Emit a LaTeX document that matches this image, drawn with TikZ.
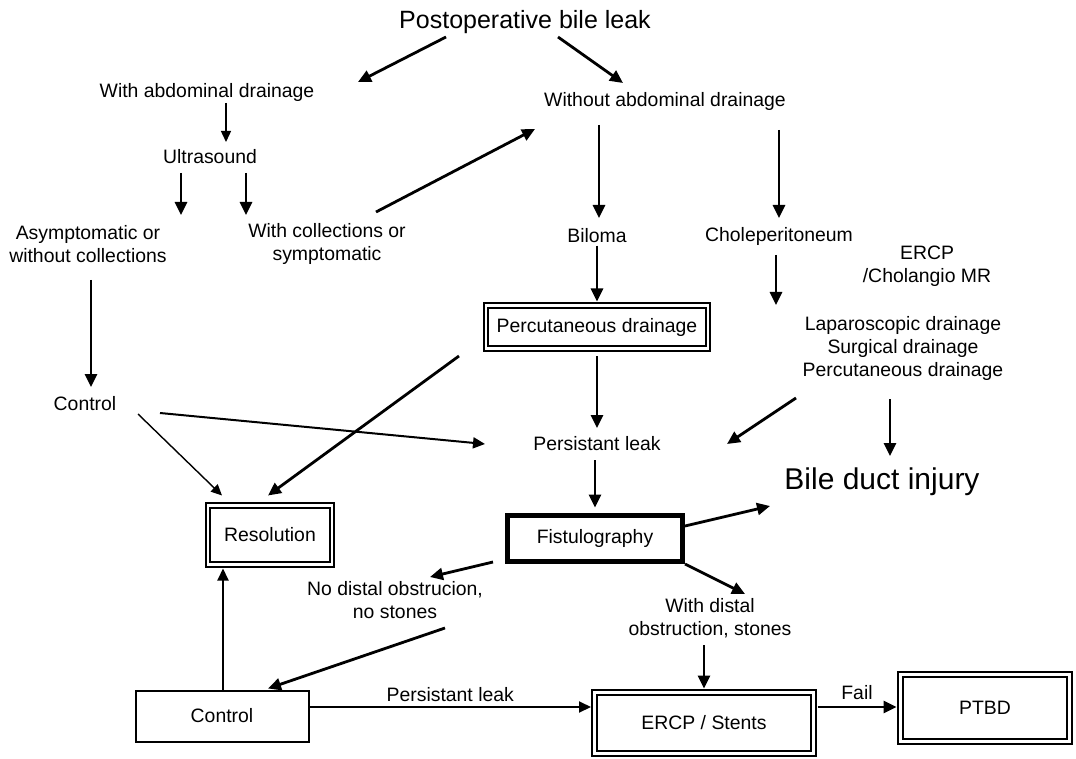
\documentclass[tikz,border=0pt]{standalone}
\usepackage{fontspec}
\setmainfont{Liberation Sans}
\usetikzlibrary{arrows.meta,positioning}

\begin{document}
\begin{tikzpicture}[x=0.5pt, y=-0.5pt,
    every node/.style={font=\fontsize{9.7}{11.5}\selectfont, align=center, inner sep=1pt},
    big/.style={font=\fontsize{12.5}{15}\selectfont},
    bigger/.style={font=\fontsize{15}{18}\selectfont},
    arr/.style={-{Triangle[length=6.5pt,width=6pt]}, line width=1.4pt},
    midarr/.style={-{Triangle[length=6pt,width=5.5pt]}, line width=1pt},
    thinarr/.style={-{Triangle[length=5.5pt,width=5pt]}, line width=0.7pt},
    dbox/.style={draw, double, line width=1pt, double distance=1.1pt, inner sep=0pt},
    sbox/.style={draw, line width=1pt, inner sep=0pt},
    heavybox/.style={draw, line width=2.5pt, inner sep=0pt}]

  \useasboundingbox (0,0) rectangle (1076,759);

  % first level
  \node (leak) [big] at (525,22) {Postoperative bile leak};
  \node (withdr) at (207,92) {With abdominal drainage};
  \node (withoutdr) at (665,101) {Without abdominal drainage};
  \node (ultra) at (210,157) {Ultrasound};
  \node (asym) at (88,244) {Asymptomatic or\\without collections};
  \node (withcoll) at (327,244) {With collections or\\symptomatic};
  \node (biloma) at (597,236) {Biloma};
  \node (chole) at (779,236) {Choleperitoneum};
  \node (ercpmr) at (927,266) {ERCP\\/Cholangio MR};
  \coordinate (choleend) at (776,305);

  % drainage and follow-up
  \node (perc) [dbox, minimum width=111pt, minimum height=21.5pt] at (597,327) {Percutaneous drainage};
  \node (lapdr) at (903,348) {Laparoscopic drainage\\Surgical drainage\\Percutaneous drainage};
  \node (ctrl) at (85,404) {Control};
  \node (persist) at (597,444) {Persistant leak};
  \node (bileinj) [bigger] at (882,482) {Bile duct injury};
  \node (resol) [dbox, minimum width=62pt, minimum height=29.5pt] at (270,535) {Resolution};
  \node (fisto) [heavybox, minimum width=87.5pt, minimum height=23pt] at (595,538) {Fistulography};

  % bottom row
  \node (nodist) at (395,600) {No distal obstrucion,\\no stones};
  \node (withdist) at (710,618) {With distal\\obstruction, stones};
  \node (ctrlbox) [sbox, minimum width=86.5pt, minimum height=25.5pt] at (222,716) {Control};
  \node (ercp) [dbox, minimum width=109.5pt, minimum height=30.5pt] at (704,723) {ERCP / Stents};
  \node (ptbd) [dbox, minimum width=84.5pt, minimum height=33.5pt] at (985,708) {PTBD};

  \draw[arr] ([shift={(-79,15)}]leak.center) -- ([shift={(151,-10)}]withdr.center);
  \draw[arr] ([shift={(33,15)}]leak.center) -- ([shift={(-42,-18)}]withoutdr.center);
  \draw[thinarr] ([shift={(19,11)}]withdr.center) -- ([shift={(16,-15)}]ultra.center);
  \draw[arr] ([shift={(-29,16)}]ultra.center) -- ([shift={(93,-29)}]asym.center);
  \draw[arr] ([shift={(36,16)}]ultra.center) -- ([shift={(-81,-29)}]withcoll.center);
  \draw[arr] ([shift={(49,-32)}]withcoll.center) -- ([shift={(-130,28)}]withoutdr.center);
  \draw[arr] ([shift={(-66,24)}]withoutdr.center) -- ([shift={(2,-18)}]biloma.center);
  \draw[arr] ([shift={(114,29)}]withoutdr.center) -- ([shift={(0,-18)}]chole.center);
  \draw[arr] ([shift={(3,36)}]asym.center) -- ([shift={(6,-17)}]ctrl.center);
  \draw[arr, shorten >=1.5pt] (biloma.south) -- (perc.north);
  \draw[arr] ([shift={(-3,19)}]chole.center) -- (choleend);
  \draw[arr] ([shift={(0,6.5)}]perc.south) -- ([shift={(0,-16)}]persist.center);
  \draw[arr] ([shift={(-26,6.5)}]perc.south west) -- ([shift={(-2,-9)}]resol.north);
  \draw[thinarr] ([shift={(53,10)}]ctrl.center) -- ([shift={(-48,-9)}]resol.north);
  \draw[midarr] ([shift={(75,9)}]ctrl.center) -- ([shift={(-112,0)}]persist.center);
  \draw[arr] ([shift={(-107,50)}]lapdr.center) -- ([shift={(130,0)}]persist.center);
  \draw[arr] ([shift={(-13,51)}]lapdr.center) -- ([shift={(8,-26)}]bileinj.center);
  \draw[arr, shorten >=2.5pt] ([shift={(-2,16)}]persist.center) -- (fisto.north);
  \draw[arr] ([shift={(90,-12)}]fisto.center) -- ([shift={(-112,24)}]bileinj.center);
  \draw[arr] ([shift={(-102,24)}]fisto.center) -- ([shift={(35,-23)}]nodist.center);
  \draw[arr] ([shift={(90,26)}]fisto.center) -- ([shift={(35,-24)}]withdist.center);
  \draw[arr] ([shift={(50,28)}]nodist.center) -- ([shift={(46,-1)}]ctrlbox.north);
  \draw[midarr] ([shift={(1,0)}]ctrlbox.north) -- ([shift={(-47,3)}]resol.south);
  \draw[midarr] ([shift={(0,-9)}]ctrlbox.east) -- ([shift={(-2.5,-16)}]ercp.west)
    node (pleak) [midway, above=1pt] {Persistant leak};
  \draw[arr] ([shift={(-6,27)}]withdist.center) -- ([shift={(0,-3)}]ercp.north);
  \draw[arr] ([shift={(3,-16)}]ercp.east) -- ([shift={(-3,-1)}]ptbd.west)
    node (fail) [midway, above=2pt] {Fail};
\end{tikzpicture}
\end{document}
